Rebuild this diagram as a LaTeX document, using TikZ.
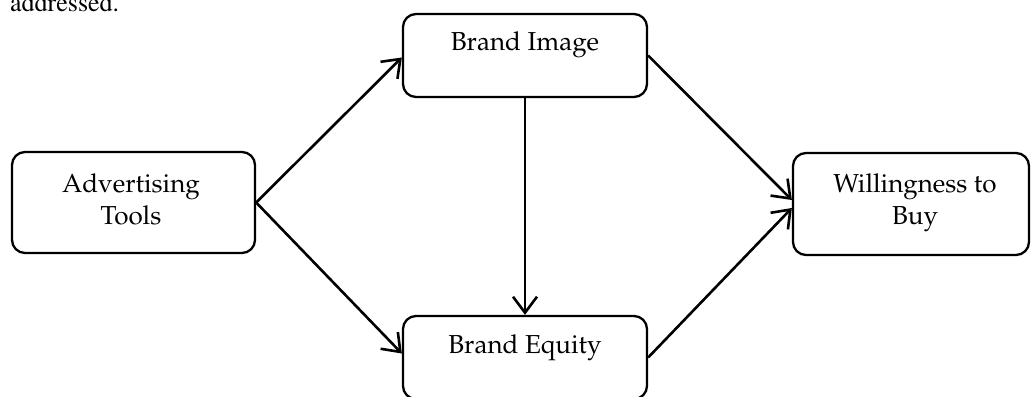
\documentclass[tikz,border=0pt]{standalone}
\usepackage[T1]{fontenc}
\usepackage{mathpazo}
\usetikzlibrary{arrows.meta}
\begin{document}
\begin{tikzpicture}[x=1pt,y=-1pt,
  box/.style={draw, line width=2.3pt, rounded corners=13pt, inner sep=0pt},
  lbl/.style={font=\fontsize{26}{32}\selectfont, align=center, inner sep=0pt},
  arr/.style={line width=2.6pt, -{Straight Barb[length=16pt,width=24pt,line width=2.6pt]}}]
\useasboundingbox (0,0) rectangle (1032,396);
\node[anchor=base west, inner sep=0pt, font=\fontfamily{ptm}\fontsize{26}{30}\selectfont] (prev) at (10,12) {addressed.};
\node[box, minimum width=243pt, minimum height=101pt] (AT) at (133.5,202.5) {};
\node[box, minimum width=244pt, minimum height=83pt] (BI) at (525,55.5) {};
\node[box, minimum width=244pt, minimum height=83pt] (BE) at (525,357.5) {};
\node[box, minimum width=236pt, minimum height=102pt] (WB) at (911,204) {};
\node[lbl] (ATt) at (131,199) {Advertising\\Tools};
\node[lbl] (BIt) at (525,45) {Brand Image};
\node[lbl] (BEt) at (525,348) {Brand Equity};
\node[lbl] (WBt) at (915,203) {Willingness to\\Buy};
\draw[arr] (AT.east) -- ([yshift=-2pt]BI.west);
\draw[arr] (AT.east) -- ([yshift=4pt]BE.west);
\draw[arr] (BI.south) -- (BE.north);
\draw[arr] (BI.east) -- ([yshift=4pt]WB.west);
\draw[arr] (BE.east) -- ([yshift=-4pt]WB.west);
\end{tikzpicture}
\end{document}
